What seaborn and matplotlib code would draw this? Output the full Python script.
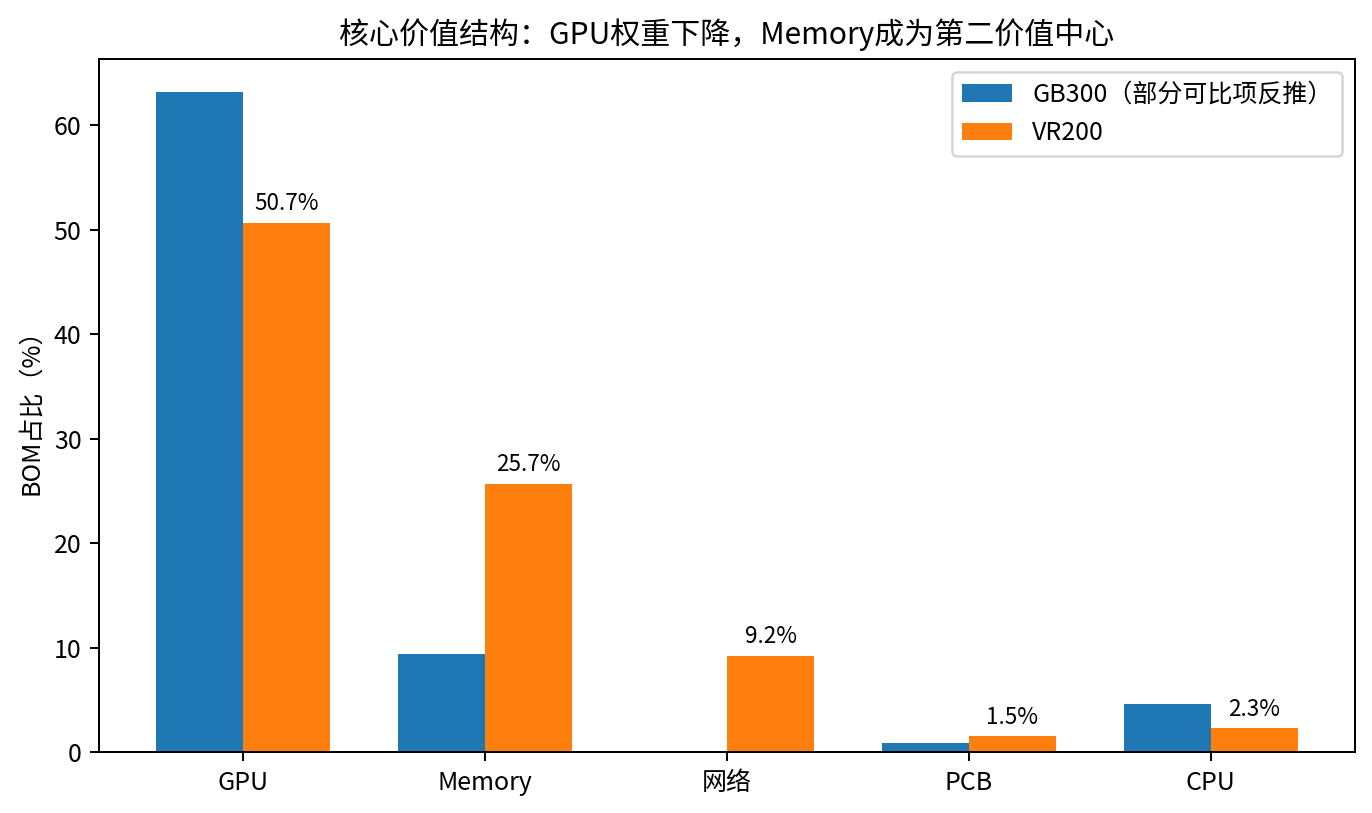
import matplotlib as mpl
import matplotlib.pyplot as plt
import numpy as np
import pandas as pd
import seaborn as sns

# ── Datos ─────────────────────────────────────────
categorias = ["GPU", "Memory", "网络", "PCB", "CPU"]
series = ["GB300（部分可比项反推）", "VR200"]
valores_gb300 = [63.2, 9.4, np.nan, 0.9, 4.6]
valores_vr200 = [50.7, 25.7, 9.2, 1.5, 2.3]
colores = ["#1f77b4", "#ff7f0e"]

_DPI = 180
_ANCHO = 0.36  # ancho de cada barra

mpl.rcParams["font.family"] = ["Noto Sans CJK SC", "DejaVu Sans"]
mpl.rcParams["axes.unicode_minus"] = False

df = pd.DataFrame(
    {
        "categoria": categorias * 2,
        "serie": [series[0]] * len(categorias) + [series[1]] * len(categorias),
        "valor": valores_gb300 + valores_vr200,
    }
)

fig, ax = plt.subplots(figsize=(1372 / _DPI, 813 / _DPI), dpi=_DPI)
sns.barplot(
    data=df,
    x="categoria",
    y="valor",
    hue="serie",
    hue_order=series,
    order=categorias,
    palette=colores,
    width=2 * _ANCHO,
    saturation=1,
    errorbar=None,
    ax=ax,
)

# solo VR200 lleva etiqueta de valor
ax.bar_label(ax.containers[1], fmt="%.1f%%", padding=3, fontsize=9)

ax.set_title("核心价值结构：GPU权重下降，Memory成为第二价值中心", fontsize=12)
ax.set_xlabel("")
ax.set_ylabel("BOM占比（%）", fontsize=10)
# márgenes tipo matplotlib (5 %) en lugar del ajuste categórico de seaborn
_margen = _ANCHO + 0.05 * (len(categorias) - 1 + 2 * _ANCHO)
ax.set_xlim(-_margen, len(categorias) - 1 + _margen)
ax.tick_params(labelsize=10)
ax.legend(loc="upper right", fontsize=10)

fig.subplots_adjust(left=0.0722, right=0.9876, bottom=0.075, top=0.9274)
fig.savefig("out.png", dpi=_DPI, facecolor="white")
